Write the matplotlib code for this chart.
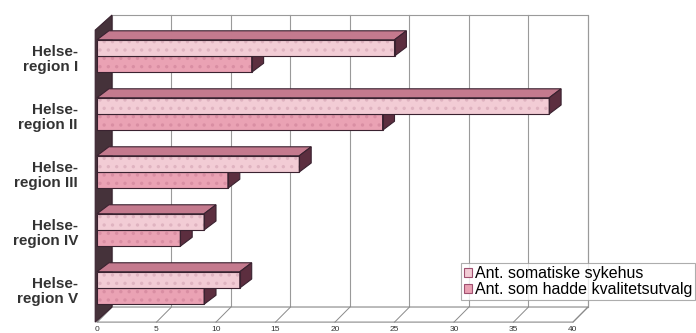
import matplotlib
matplotlib.use("Agg")
import matplotlib.pyplot as plt
from matplotlib.patches import Polygon, Rectangle, Patch
import numpy as np

plt.rcParams['font.family'] = ['Liberation Sans', 'DejaVu Sans']
plt.rcParams['hatch.linewidth'] = 1.2

# data
regions = ["Helse-\nregion I", "Helse-\nregion II", "Helse-\nregion III",
           "Helse-\nregion IV", "Helse-\nregion V"]
somatiske = [25, 38, 17, 9, 12]
kvalitet = [13, 24, 11, 7, 9]
series_names = ["Ant. somatiske sykehus", "Ant. som hadde kvalitetsutvalg"]
xticks = [0, 5, 10, 15, 20, 25, 30, 35, 40]

# colours
front1 = '#f2ccd5'
dots1 = '#dfb3c0'
front2 = '#eaa2b4'
dots2 = '#d98ea3'
top_c = '#c47a8e'
side_c = '#5c2e3f'
edge_c = '#3a2230'
wall_c = '#45323a'

# geometry (data units)
h = 0.28           # bar thickness
bdx, bdy = 1.0, 0.155   # bar depth offset
wdx, wdy = 1.26, 0.26   # wall depth offset
y_top, y_bot = -0.707, 4.328   # back wall top / bottom
xmax = 40

fig = plt.figure(figsize=(6.96, 3.33), dpi=100)
ax = fig.add_axes([0, 0, 1, 1])
ax.set_xlim(-97 / 11.9, (696 - 97) / 11.9)
ax.set_ylim(4.776, -0.966)
ax.axis('off')

# back wall
ax.add_patch(Rectangle((wdx, y_top), xmax, y_bot - y_top, facecolor='white',
                       edgecolor='#9a9a9a', lw=0.8, zorder=1))
for t in xticks[1:]:
    ax.plot([t + wdx, t + wdx], [y_top, y_bot], color='#9a9a9a', lw=0.8, zorder=1)

# floor
fy = y_bot + wdy
ax.add_patch(Polygon([(0, fy), (xmax, fy), (xmax + wdx, y_bot), (wdx, y_bot)],
                     closed=True, facecolor='white', edgecolor='#8a8a8a', lw=0.8, zorder=1.5))
for t in xticks:
    ax.plot([t, t + wdx], [fy, y_bot], color='#8a8a8a', lw=0.7, zorder=1.6)
    ax.text(t, fy + 0.12, str(t), ha='center', va='center', fontsize=6, color='#333333')

# left wall
ax.add_patch(Polygon([(-0.15, y_top + wdy), (wdx, y_top), (wdx, y_bot), (-0.15, fy)],
                     closed=True, facecolor=wall_c, edgecolor=edge_c, lw=0.8, zorder=2))

y = np.arange(len(regions))


def draw_bars(vals, ypos, front, dots, z):
    ax.barh(ypos, vals, height=h, left=0, color=front, hatch='..', edgecolor=dots,
            lw=0, zorder=z)
    ax.barh(ypos, vals, height=h, left=0, fill=False, edgecolor=edge_c, lw=0.8, zorder=z + 0.1)
    for v, yc in zip(vals, ypos):
        y0, y1 = yc - h / 2, yc + h / 2
        ax.add_patch(Polygon([(0, y0), (v, y0), (v + bdx, y0 - bdy), (bdx, y0 - bdy)],
                             closed=True, facecolor=top_c, edgecolor=edge_c, lw=0.8, zorder=z))
        ax.add_patch(Polygon([(v, y0), (v + bdx, y0 - bdy), (v + bdx, y1 - bdy), (v, y1)],
                             closed=True, facecolor=side_c, edgecolor=edge_c, lw=0.8, zorder=z))


draw_bars(kvalitet, y + h / 2, front2, dots2, 3)
draw_bars(somatiske, y - h / 2, front1, dots1, 4)

for yc, lab in zip(y, regions):
    ax.text(-19 / 11.9, yc + 0.06, lab, ha='right', va='center', fontsize=11,
            fontweight='bold', color='#333333', linespacing=1.15)

handles = [Patch(facecolor=front1, edgecolor='#a05070', lw=0.8),
           Patch(facecolor=front2, edgecolor='#a05070', lw=0.8)]
leg = fig.legend(handles, series_names, loc='upper left', bbox_to_anchor=(461 / 696, 1 - 263 / 333),
                 fontsize=11.5, frameon=True, fancybox=False, edgecolor='#999999',
                 handlelength=0.5, handleheight=0.5, handletextpad=0.15, borderpad=0.2,
                 labelspacing=0.05, borderaxespad=0)
leg.get_frame().set_linewidth(0.8)

fig.savefig("out.png", dpi=100)
